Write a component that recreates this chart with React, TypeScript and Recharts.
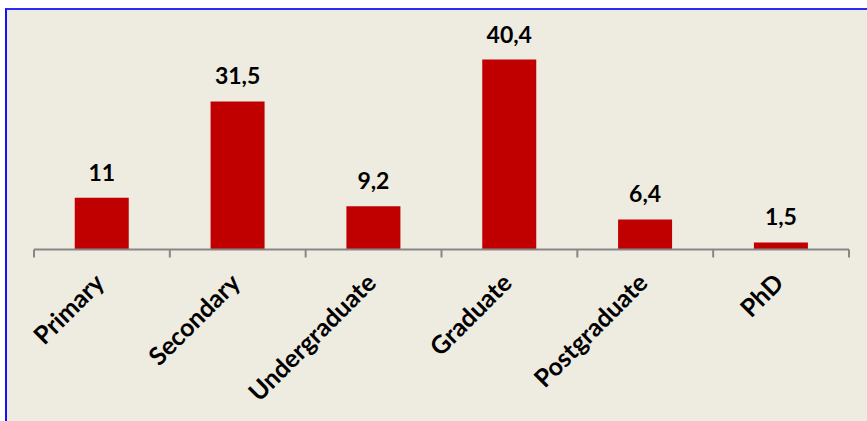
import React from 'react';
import { BarChart, Bar, XAxis, YAxis, LabelList } from 'recharts';

// Share of respondents by education level (%)
const categories = ['Primary', 'Secondary', 'Undergraduate', 'Graduate', 'Postgraduate', 'PhD'];
const shares = [11, 31.5, 9.2, 40.4, 6.4, 1.5];
const valueDomain: [number, number] = [0, 45];

const data = categories.map((name, i) => ({ name, value: shares[i] }));

const FONT = 'Lato, "Open Sans", "DejaVu Sans", sans-serif';
const AXIS_GRAY = '#878787';
const BAR_RED = '#C00000';

const formatComma = (v: any) => String(v).replace('.', ',');

// Category tick: rotated label plus tick marks on the band boundaries
function CategoryTick(props: any) {
  const { x, y, payload, index, visibleTicksCount } = props;
  const half = payload && payload.offset ? payload.offset : 0;
  const count = visibleTicksCount ?? categories.length;
  const isLast = index === count - 1;
  const lx = x + 4;
  const ly = y + 35;
  return (
    <g>
      <line x1={x - half} x2={x - half} y1={y} y2={y + 8} stroke={AXIS_GRAY} strokeWidth={2} />
      {isLast && (
        <line x1={x + half} x2={x + half} y1={y} y2={y + 8} stroke={AXIS_GRAY} strokeWidth={2} />
      )}
      <text
        x={lx}
        y={ly}
        transform={`rotate(-45, ${lx}, ${ly})`}
        textAnchor="end"
        fontFamily={FONT}
        fontWeight={700}
        fontSize={25}
        fill="#000"
      >
        {payload.value}
      </text>
    </g>
  );
}

export default function App() {
  return (
    <div style={{ position: 'fixed', left: 0, top: 0, width: 867, height: 421, overflow: 'hidden', background: '#fff' }}>
      <div
        style={{
          position: 'absolute',
          left: 5,
          top: 8,
          width: 862,
          height: 413,
          boxSizing: 'border-box',
          background: '#EEEBE1',
          borderLeft: '2px solid #1212FF',
          borderTop: '2px solid #2A2AFF',
        }}
      />
      <div style={{ position: 'absolute', left: 0, top: 0 }}>
        <BarChart
          width={867}
          height={421}
          data={data}
          margin={{ top: 38, right: 18, bottom: 31.5, left: 34 }}
          barCategoryGap="30%"
        >
          <YAxis hide domain={valueDomain} />
          <XAxis
            dataKey="name"
            height={140}
            interval={0}
            tickLine={false}
            tickSize={0}
            tickMargin={0}
            axisLine={{ stroke: AXIS_GRAY, strokeWidth: 2 }}
            tick={<CategoryTick />}
          />
          <Bar dataKey="value" fill={BAR_RED} isAnimationActive={false}>
            <LabelList
              dataKey="value"
              position="top"
              offset={17}
              formatter={formatComma}
              fill="#000"
              fontFamily={FONT}
              fontWeight={700}
              fontSize={23}
            />
          </Bar>
        </BarChart>
      </div>
    </div>
  );
}
